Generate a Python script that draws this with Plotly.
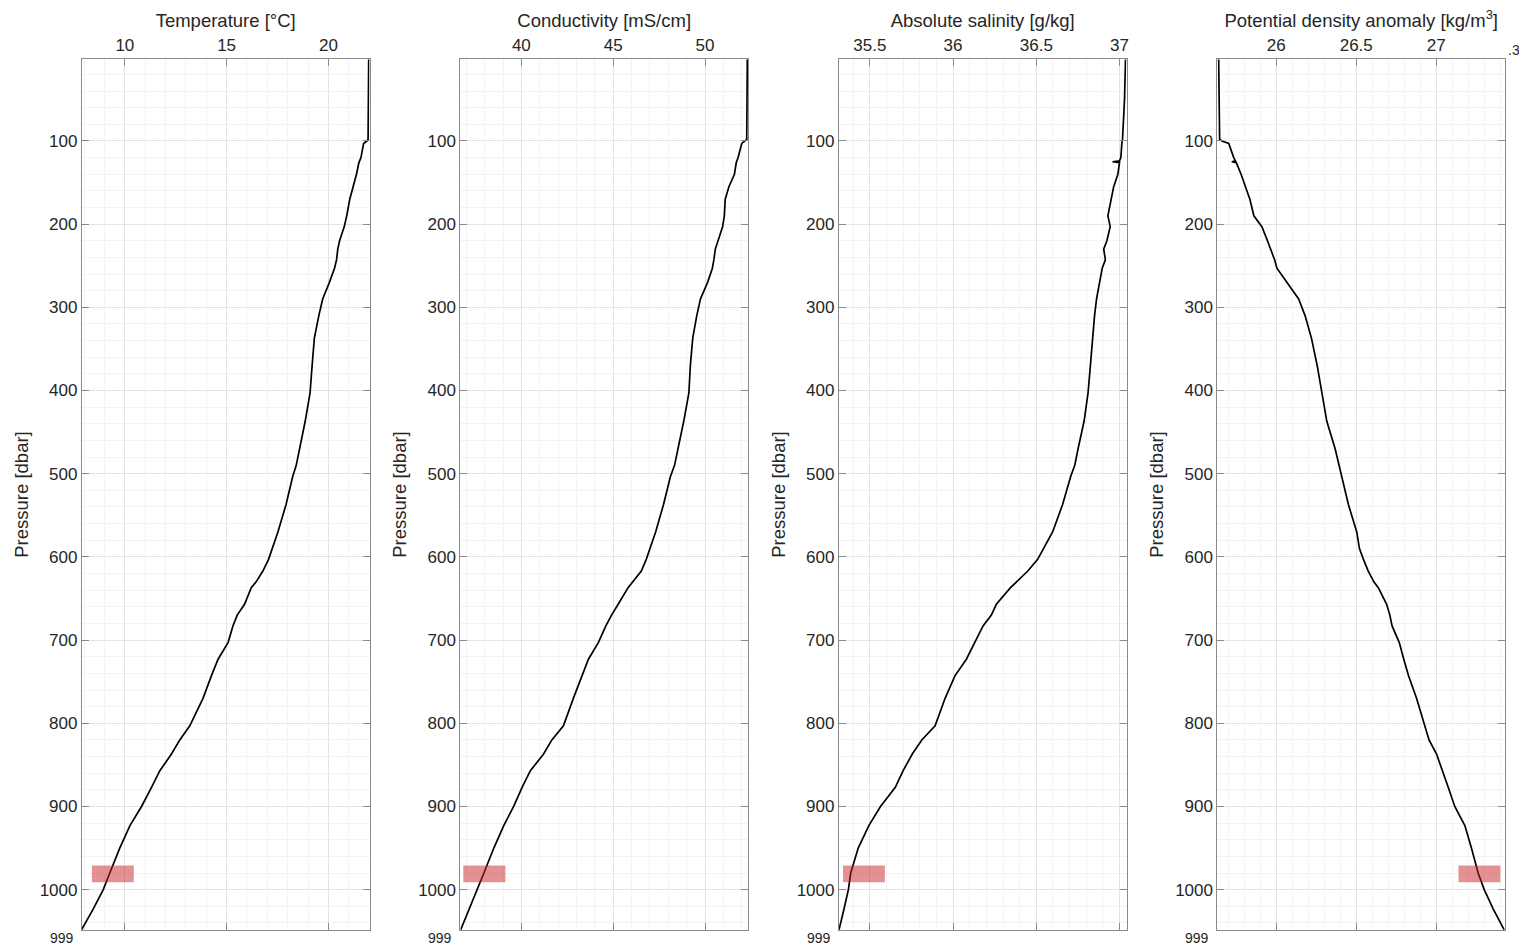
import plotly.graph_objects as go

# ---------------- data ----------------
pressure = [2, 50, 98, 100, 103, 120, 124, 125, 126, 140, 155, 170, 190, 203, 220, 230, 243, 253,
            270, 290, 310, 337, 370, 403, 437, 470, 490, 503, 537, 570, 590, 603, 617, 630, 637,
            657, 670, 683, 703, 723, 743, 770, 803, 820, 837, 857, 877, 900, 923, 950, 980, 1000,
            1023, 1048]

temperature = [21.98, 21.97, 21.95, 21.9, 21.73, 21.6, 21.52, 21.5, 21.5, 21.38, 21.2, 21.05, 20.9,
               20.78, 20.55, 20.46, 20.4, 20.3, 20.05, 19.72, 19.53, 19.31, 19.2, 19.1, 18.86,
               18.58, 18.42, 18.25, 17.92, 17.52, 17.22, 17.06, 16.78, 16.45, 16.21, 15.88, 15.52,
               15.31, 15.07, 14.58, 14.25, 13.84, 13.19, 12.7, 12.29, 11.72, 11.31, 10.82, 10.25,
               9.75, 9.26, 8.94, 8.45, 7.88]

conductivity = [52.3, 52.29, 52.27, 52.18, 52.0, 51.8, 51.72, 51.7, 51.7, 51.6, 51.3, 51.1, 51.05,
                50.96, 50.7, 50.56, 50.48, 50.4, 50.14, 49.75, 49.55, 49.33, 49.2, 49.12, 48.84,
                48.52, 48.34, 48.12, 47.74, 47.31, 46.99, 46.8, 46.53, 46.08, 45.81, 45.27, 44.91,
                44.6, 44.19, 43.65, 43.29, 42.83, 42.29, 41.66, 41.21, 40.49, 40.04, 39.58, 39.04,
                38.5, 37.96, 37.6, 37.15, 36.7]

salinity = [37.036, 37.03, 37.018, 37.016, 37.014, 37.008, 37.0, 36.958, 37.0, 36.99, 36.965, 36.95,
            36.93, 36.944, 36.924, 36.905, 36.915, 36.896, 36.88, 36.862, 36.85, 36.837, 36.825,
            36.811, 36.787, 36.751, 36.731, 36.707, 36.658, 36.598, 36.544, 36.508, 36.449, 36.379,
            36.345, 36.26, 36.23, 36.18, 36.13, 36.08, 36.011, 35.952, 35.892, 35.812, 35.755,
            35.70, 35.653, 35.564, 35.494, 35.43, 35.385, 35.371, 35.345, 35.315]

density = [25.64, 25.642, 25.646, 25.66, 25.703, 25.734, 25.745, 25.722, 25.75, 25.78, 25.81,
           25.835, 25.86, 25.91, 25.945, 25.965, 25.99, 26.004, 26.067, 26.14, 26.18, 26.22,
           26.256, 26.285, 26.316, 26.368, 26.393, 26.41, 26.451, 26.503, 26.52, 26.545, 26.575,
           26.61, 26.638, 26.69, 26.71, 26.724, 26.769, 26.797, 26.827, 26.877, 26.929, 26.955,
           27.002, 27.04, 27.075, 27.116, 27.179, 27.22, 27.262, 27.3, 27.356, 27.424]

titles = ["Temperature [°C]", "Conductivity [mS/cm]", "Absolute salinity [g/kg]",
          "Potential density anomaly [kg/m<sup>3</sup>]"]
x_ranges = [[7.89, 22.02], [36.68, 52.34], [35.314, 37.042], [25.632, 27.43]]
x_tickvals = [[10, 15, 20], [40, 45, 50], [35.5, 36, 36.5, 37], [26, 26.5, 27]]
x_ticktext = [["10", "15", "20"], ["40", "45", "50"], ["35.5", "36", "36.5", "37"],
              ["26", "26.5", "27"]]
x_minor = [1, 1, 0.1, 0.1]
y_tickvals = [100, 200, 300, 400, 500, 600, 700, 800, 900, 1000]
y_range = [1048.5, 1.5]
highlight_p = [971, 991]
highlight_x = [[8.38, 10.44], [36.84, 39.13], [35.339, 35.59], [27.139, 27.401]]
bottom_clipped_labels = ["999", "999", "999", "999"]
edge_clipped_label = ".3"

# ---------------- figure ----------------
W, H = 1519, 946
left_px = [82, 461, 840, 1219]
panel_w = 288
y_dom = [1 - 930 / H, 1 - 59 / H]

FONT = "Liberation Sans, Arial, Helvetica, sans-serif"
TXT = "#262626"
AX = "#8a8a8a"
GRID = "#e3e3e3"
MINOR = "#f3f3f3"

series = [temperature, conductivity, salinity, density]
fig = go.Figure()
layout = dict(
    width=W, height=H, margin=dict(l=0, r=0, t=0, b=0),
    paper_bgcolor="white", plot_bgcolor="white", showlegend=False,
    font=dict(family=FONT, color=TXT, size=17),
)
shapes = []
annotations = []
for i, vals in enumerate(series):
    n = "" if i == 0 else str(i + 1)
    fig.add_trace(go.Scatter(x=vals, y=pressure, mode="lines",
                             line=dict(color="black", width=1.7),
                             xaxis="x" + n, yaxis="y" + n, hoverinfo="skip"))
    x0 = left_px[i] / W
    x1 = (left_px[i] + panel_w) / W
    layout["xaxis" + n] = dict(
        domain=[x0, x1], anchor="y" + n, side="top", range=x_ranges[i],
        tickmode="array", tickvals=x_tickvals[i], ticktext=x_ticktext[i],
        ticks="inside", ticklen=7, tickcolor=AX, tickwidth=1,
        showline=True, linecolor=AX, linewidth=1, mirror="allticks",
        showgrid=True, gridcolor=GRID, gridwidth=1, zeroline=False,
        minor=dict(tickmode="linear", tick0=0, dtick=x_minor[i], showgrid=True,
                   gridcolor=MINOR, gridwidth=1),
        tickfont=dict(size=17, color=TXT, family=FONT),
        title=dict(text=titles[i], font=dict(size=18.5, color=TXT, family=FONT), standoff=3),
    )
    layout["yaxis" + n] = dict(
        domain=y_dom, anchor="x" + n, range=y_range,
        tickmode="array", tickvals=y_tickvals, ticktext=[str(v) for v in y_tickvals],
        ticks="inside", ticklen=7, tickcolor=AX, tickwidth=1,
        showline=True, linecolor=AX, linewidth=1, mirror="allticks",
        showgrid=True, gridcolor=GRID, gridwidth=1, zeroline=False,
        minor=dict(tickmode="linear", tick0=0, dtick=20, showgrid=True,
                   gridcolor=MINOR, gridwidth=1),
        tickfont=dict(size=17, color=TXT, family=FONT),
        title=dict(text="Pressure [dbar]", font=dict(size=18.5, color=TXT, family=FONT), standoff=6),
    )
    shapes.append(dict(type="rect", xref="x" + n, yref="y" + n,
                       x0=highlight_x[i][0], x1=highlight_x[i][1],
                       y0=highlight_p[0], y1=highlight_p[1],
                       fillcolor="rgba(205,35,35,0.5)", line=dict(width=0), layer="above"))
    annotations.append(dict(text=bottom_clipped_labels[i], xref="paper", yref="paper",
                            x=(left_px[i] - 6) / W, y=1 - 938 / H, xanchor="right",
                            yanchor="middle", showarrow=False,
                            font=dict(size=14, color=TXT, family=FONT)))

annotations.append(dict(text=edge_clipped_label, xref="paper", yref="paper",
                        x=1508 / W, y=1 - 50 / H, xanchor="left", yanchor="middle",
                        showarrow=False, font=dict(size=14, color=TXT, family=FONT)))

layout["shapes"] = shapes
layout["annotations"] = annotations
fig.update_layout(**layout)
fig.write_html("out.html", config={"displayModeBar": False},
               post_script="document.body.style.margin='0';document.body.style.padding='0';"
                           "document.body.style.overflow='hidden';")
